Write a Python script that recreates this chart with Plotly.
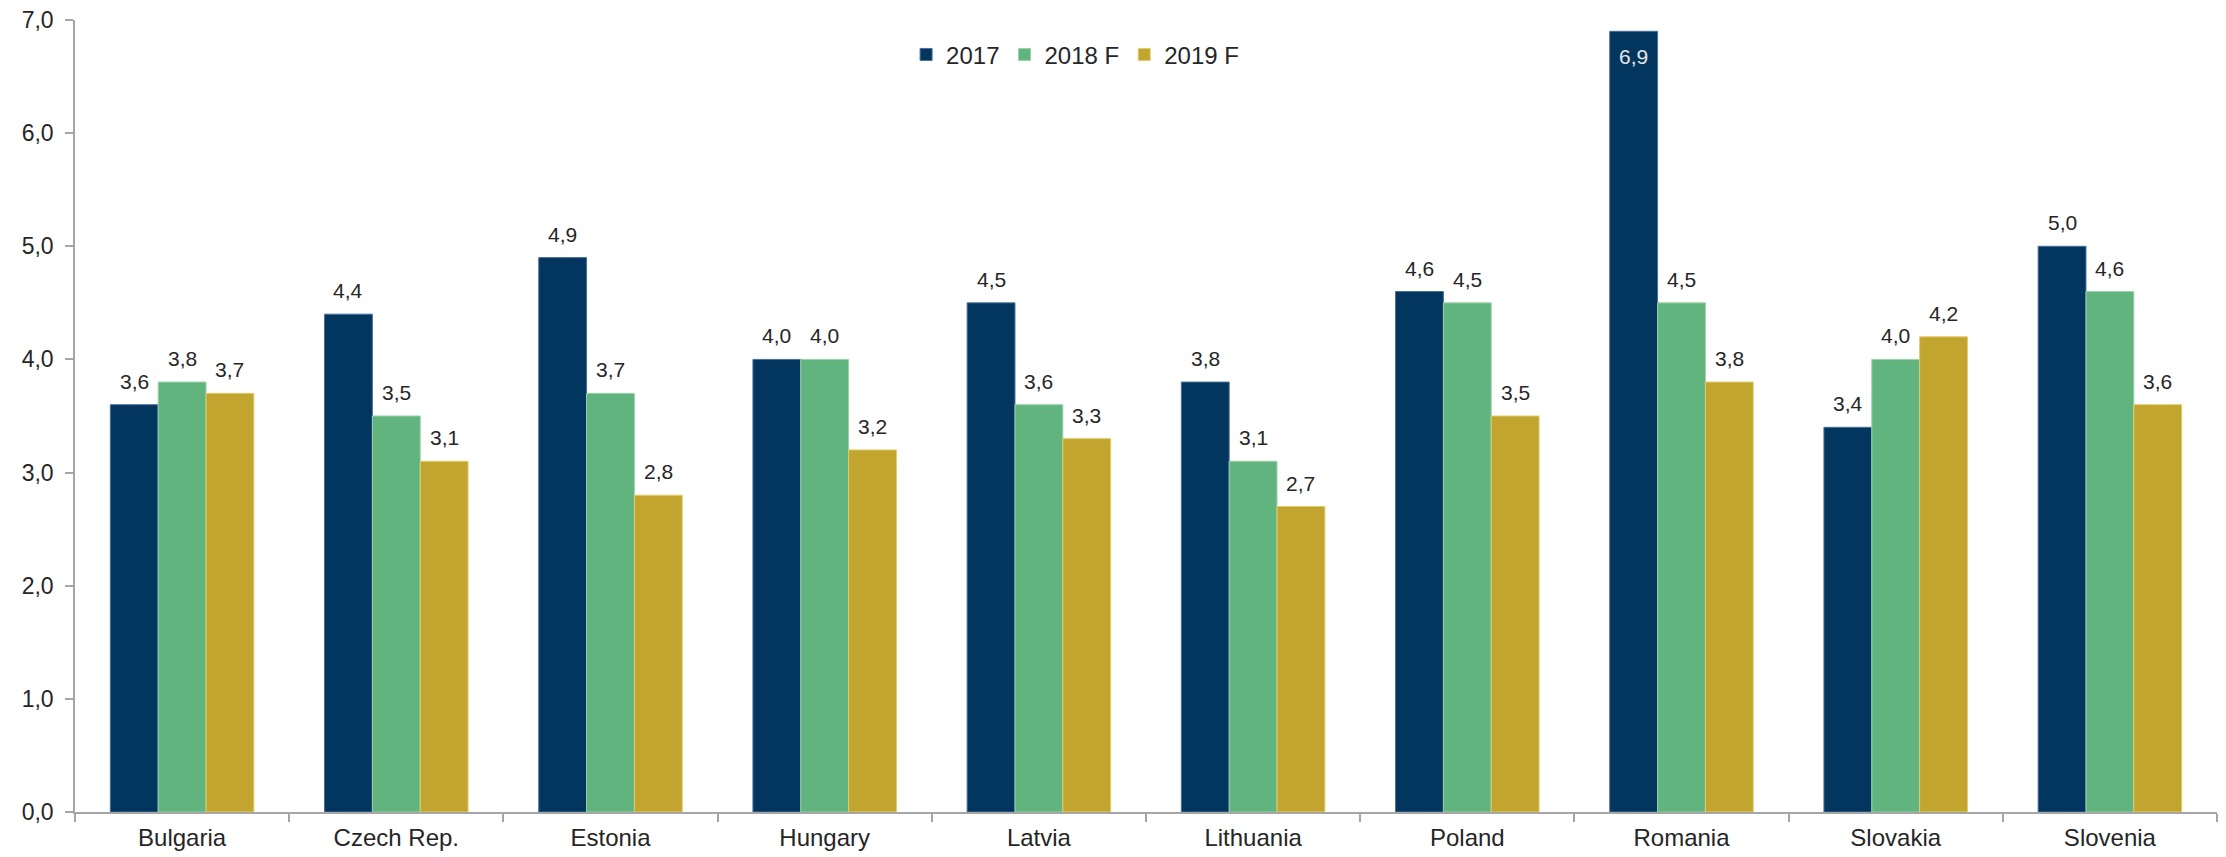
import plotly.graph_objects as go

countries = ["Bulgaria", "Czech Rep.", "Estonia", "Hungary", "Latvia",
             "Lithuania", "Poland", "Romania", "Slovakia", "Slovenia"]
v2017 = [3.6, 4.4, 4.9, 4.0, 4.5, 3.8, 4.6, 6.9, 3.4, 5.0]
v2018 = [3.8, 3.5, 3.7, 4.0, 3.6, 3.1, 4.5, 4.5, 4.0, 4.6]
v2019 = [3.7, 3.1, 2.8, 3.2, 3.3, 2.7, 3.5, 3.8, 4.2, 3.6]
series_names = ["2017", "2018 F", "2019 F"]
colors = ["#03365E", "#62B47E", "#C1A52E"]
edge_colors = ["#4A6F96", "#9AD2AA", "#E0CC6E"]

W, H = 2226, 857
ML, MR, MT, MB = 67, 17, 12, 53
BARGAP = 0.33
plot_w = W - ML - MR
cat_w = plot_w / len(countries)
bar_w = cat_w * (1 - BARGAP) / 3

fig = go.Figure()
annotations = []
for i, (name, vals, col, edge) in enumerate(zip(series_names, [v2017, v2018, v2019], colors, edge_colors)):
    fig.add_trace(go.Bar(
        x=countries, y=vals, name=name,
        marker=dict(color=col, line=dict(color=edge, width=1)),
        hoverinfo="x+y+name",
    ))
    xshift = (i - 1) * bar_w
    for c, v in zip(countries, vals):
        label = f"{v:.1f}".replace(".", ",")
        if v > 6.5:
            annotations.append(dict(x=c, y=v, text=label, showarrow=False,
                                    xshift=xshift, yshift=-12, yanchor="top",
                                    font=dict(size=21, color="#E6E6E6")))
        else:
            annotations.append(dict(x=c, y=v, text=label, showarrow=False,
                                    xshift=xshift, yshift=10, yanchor="bottom",
                                    font=dict(size=21, color="#262626")))

fig.update_layout(
    width=W, height=H,
    barmode="group", bargap=BARGAP, bargroupgap=0,
    plot_bgcolor="white", paper_bgcolor="white",
    separators=",.",
    margin=dict(l=ML, r=MR, t=MT, b=MB),
    font=dict(family="Liberation Sans, Arial", size=22, color="#262626"),
    legend=dict(orientation="h", x=0.388, xanchor="left", y=0.956, yanchor="middle",
                font=dict(size=24, color="#262626"), itemwidth=30,
                bgcolor="rgba(0,0,0,0)", traceorder="normal"),
    showlegend=True,
    annotations=annotations,
)
fig.update_xaxes(showline=True, linecolor="#A6A6A6", linewidth=1.5,
                 ticks="outside", ticklen=8, tickcolor="#A6A6A6", tickwidth=1.5,
                 tickson="boundaries", showgrid=False, automargin=False,
                 ticklabeloverflow="allow", ticklabelstandoff=3,
                 tickfont=dict(size=24, color="#262626"))
fig.update_yaxes(range=[0, 7], dtick=1, tickformat=".1f",
                 showline=True, linecolor="#A6A6A6", linewidth=1.5,
                 ticks="outside", ticklen=8, tickcolor="#A6A6A6", tickwidth=1.5,
                 showgrid=False, zeroline=False, automargin=False,
                 ticklabeloverflow="allow", ticklabelstandoff=7,
                 tickfont=dict(size=23, color="#262626"))

fig.write_html("out.html")
